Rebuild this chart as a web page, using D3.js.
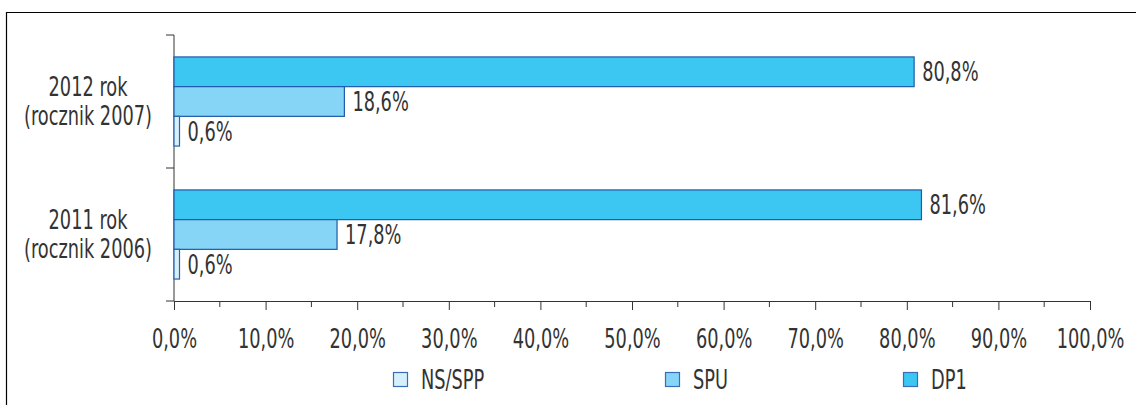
<!DOCTYPE html>
<html lang="pl">
<head>
<meta charset="UTF-8">
<title>DP1 / SPU / NS-SPP</title>
<script src="https://d3js.org/d3.v7.min.js"></script>
<style>
  body { margin: 0; background: #fff; }
  svg text { font-family: "DejaVu Sans Condensed", "Liberation Sans", sans-serif; fill: #333; }
</style>
</head>
<body>
<script>
// data
const years = ["2012", "2011"];
const yearLines = [["2012 rok", "(rocznik 2007)"], ["2011 rok", "(rocznik 2006)"]];
const seriesNames = ["DP1", "SPU", "NS/SPP"];
const dp1 = [80.8, 81.6];
const spu = [18.6, 17.8];
const nsspp = [0.6, 0.6];
const xTicks = [0, 10, 20, 30, 40, 50, 60, 70, 80, 90, 100];
const legendOrder = ["NS/SPP", "SPU", "DP1"];

const fills = { "DP1": "#3cc7f3", "SPU": "#86d5f7", "NS/SPP": "#d5f0fb" };
const strokes = { "DP1": "#1e5aa8", "SPU": "#1e5aa8", "NS/SPP": "#2a62b0" };

const w = 1136, h = 405;
const plotLeft = 174, plotRight = 1090, plotTop = 35, plotBottom = 301;
const fontSize = 26;
const squeeze = 0.76; // the original font is a condensed face

const rows = years.map((y, i) => ({
  year: y,
  lines: yearLines[i],
  vals: [
    { s: "DP1", v: dp1[i] },
    { s: "SPU", v: spu[i] },
    { s: "NS/SPP", v: nsspp[i] }
  ]
}));

const svg = d3.select("body").append("svg")
  .attr("width", w).attr("height", h);

// frame (top + left line)
svg.append("path")
  .attr("d", `M6.5,${h} V12.5 H${w}`)
  .attr("fill", "none").attr("stroke", "#000").attr("stroke-width", 1.2);

const x = d3.scaleLinear().domain([0, 100]).range([plotLeft, plotRight]);
const y = d3.scaleBand().domain(years).range([plotTop, plotBottom]).paddingInner(0.33).paddingOuter(0.165);
const yIn = d3.scaleBand().domain(seriesNames).range([0, y.bandwidth()]);

const fmt = v => d3.format(".1f")(v).replace(".", ",") + "%";
const place = (px, py) => `translate(${px},${py}) scale(${squeeze},1)`;

// minor ticks on x
svg.append("g")
  .attr("transform", `translate(0,${plotBottom})`)
  .selectAll("line")
  .data(d3.range(5, 100, 10))
  .join("line")
  .attr("x1", d => x(d)).attr("x2", d => x(d))
  .attr("y1", 0).attr("y2", 6)
  .attr("stroke", "#333");

// x axis
const xAxis = svg.append("g")
  .attr("transform", `translate(0,${plotBottom})`)
  .call(d3.axisBottom(x).tickValues(xTicks).tickFormat(fmt).tickSize(9).tickSizeOuter(0).tickPadding(20));
xAxis.select(".domain").attr("stroke", "#333");
xAxis.selectAll(".tick line").attr("stroke", "#333");
xAxis.selectAll(".tick text")
  .attr("font-size", fontSize).attr("font-family", null).attr("fill", null)
  .attr("transform", `scale(${squeeze},1)`);

// y axis: line with ticks at band boundaries
const yBounds = [plotTop, (y("2012") + y.bandwidth() + y("2011")) / 2, plotBottom];
svg.append("line")
  .attr("x1", plotLeft).attr("x2", plotLeft).attr("y1", plotTop).attr("y2", plotBottom)
  .attr("stroke", "#333");
svg.append("g").selectAll("line")
  .data(yBounds)
  .join("line")
  .attr("x1", plotLeft - 8).attr("x2", plotLeft)
  .attr("y1", d => d).attr("y2", d => d)
  .attr("stroke", "#333");

// category labels
const catLabels = svg.append("g").selectAll("text")
  .data(rows)
  .join("text")
  .attr("text-anchor", "middle")
  .attr("font-size", fontSize)
  .attr("transform", d => place(88, y(d.year) + y.bandwidth() / 2));
catLabels.selectAll("tspan")
  .data(d => d.lines.map((t, i) => ({ t, i })))
  .join("tspan")
  .attr("x", 0)
  .attr("dy", d => d.i === 0 ? "-0.23em" : "1.15em")
  .text(d => d.t);

// bars
const groups = svg.append("g").selectAll("g")
  .data(rows)
  .join("g")
  .attr("transform", d => `translate(0,${y(d.year)})`);

groups.selectAll("rect")
  .data(d => d.vals)
  .join("rect")
  .attr("x", x(0))
  .attr("y", d => yIn(d.s))
  .attr("width", d => x(d.v) - x(0))
  .attr("height", yIn.bandwidth())
  .attr("fill", d => fills[d.s])
  .attr("stroke", d => strokes[d.s])
  .attr("stroke-width", 1.2);

groups.selectAll("text")
  .data(d => d.vals)
  .join("text")
  .attr("transform", d => place(x(d.v) + 8, yIn(d.s) + yIn.bandwidth() / 2))
  .attr("dy", "0.36em")
  .attr("font-size", fontSize)
  .text(d => fmt(d.v));

// legend
const legendX = [393, 665, 903];
const leg = svg.append("g").selectAll("g")
  .data(legendOrder)
  .join("g")
  .attr("transform", (d, i) => `translate(${legendX[i]},380)`);
leg.append("rect")
  .attr("x", 0.5).attr("y", -7.5)
  .attr("width", 14).attr("height", 14)
  .attr("fill", d => fills[d])
  .attr("stroke", "#3a6db5").attr("stroke-width", 1.2);
leg.append("text")
  .attr("transform", place(28, 0))
  .attr("dy", "0.36em")
  .attr("font-size", fontSize)
  .text(d => d);
</script>
</body>
</html>
